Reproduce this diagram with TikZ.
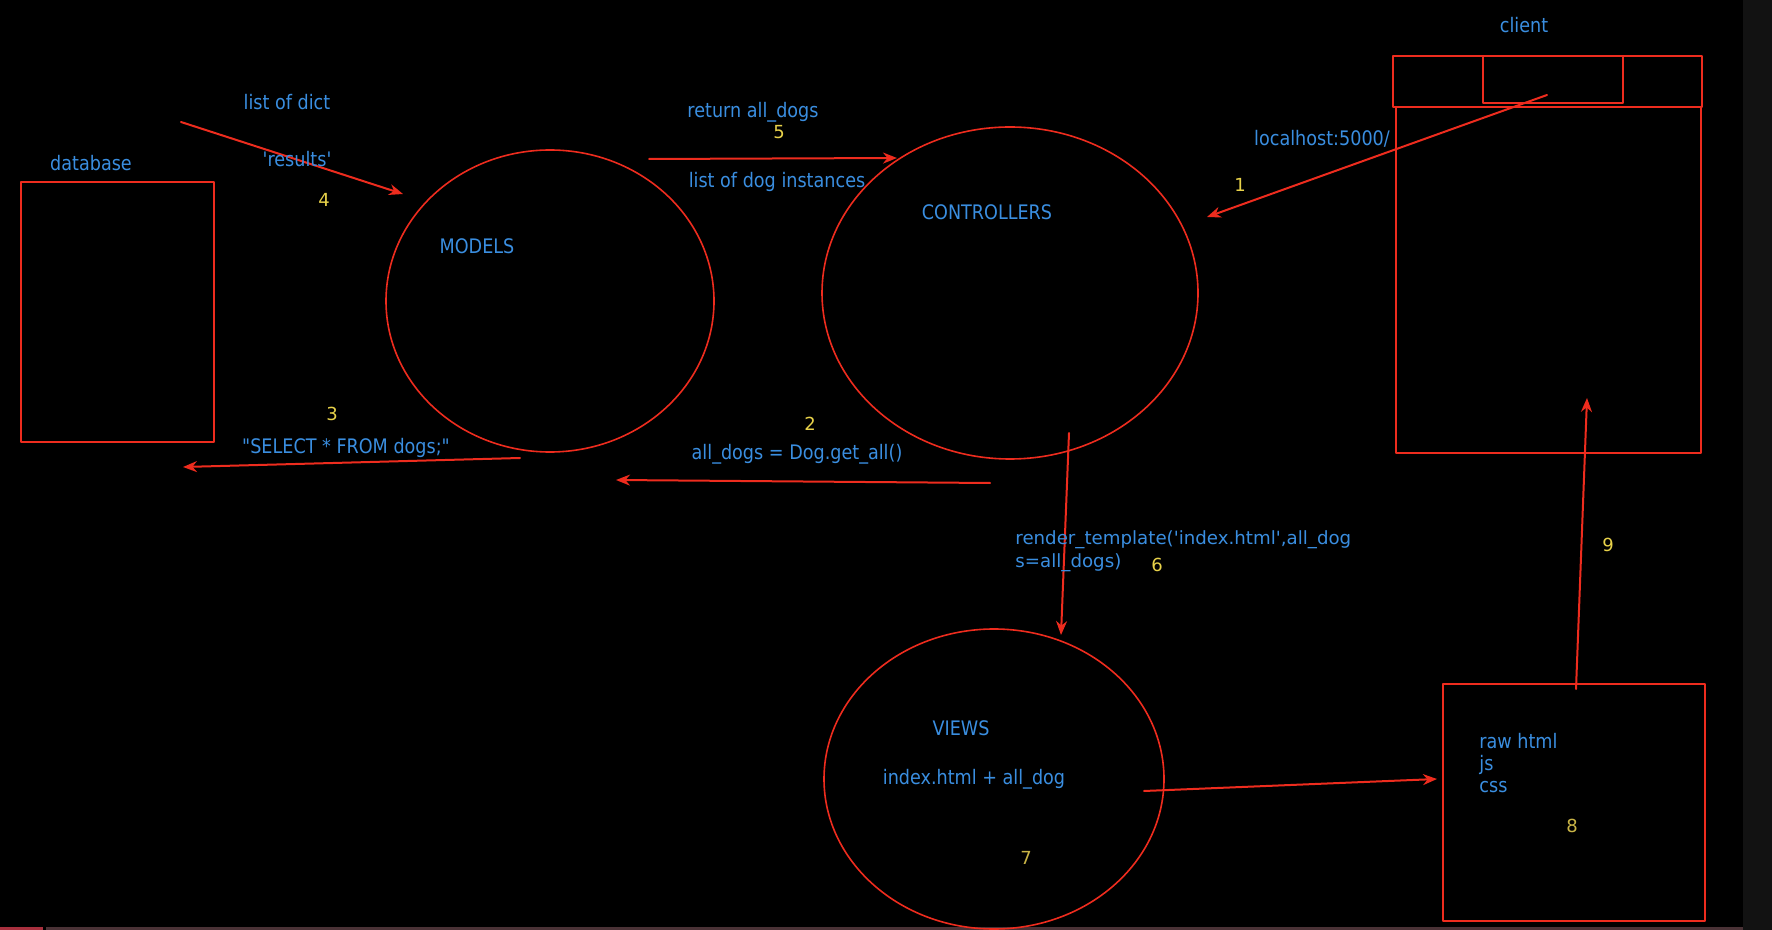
\documentclass[tikz,border=0pt]{standalone}
\usepackage{fontspec}
\setmainfont{DejaVu Sans}
\newfontfamily\lblfont{DejaVu Sans}[FakeStretch=0.88]
\newfontfamily\codefont{DejaVu Sans}
\usetikzlibrary{arrows.meta,shapes.geometric,fit}
\definecolor{pen}{HTML}{EE2C1E}
\definecolor{txt}{HTML}{3A8EE0}
\definecolor{numcol}{HTML}{E8D24A}
\definecolor{numdim}{HTML}{C9B446}
\definecolor{bar}{HTML}{121212}
\definecolor{edgered}{HTML}{A8303E}
\definecolor{edgegray}{HTML}{4A3236}
\newcommand{\sq}{\symbol{39}}
\tikzset{
  >={Stealth[length=7pt,width=5.5pt]},
  every picture/.style={line cap=round, line join=round},
  pane/.style={draw=pen, line width=1pt, inner sep=0pt},
  blob/.style={ellipse, draw=pen, line width=0.8pt, inner sep=0pt},
  flow/.style={->, draw=pen, line width=1pt},
  lbl/.style={font=\lblfont\fontsize{10}{11}\selectfont, text=txt, inner sep=0pt},
  code/.style={font=\codefont\fontsize{9.1}{11.5}\selectfont, text=txt, inner sep=0pt, align=left},
  stepno/.style={font=\fontsize{9}{11}\selectfont, text=numcol, inner sep=0pt},
  stepdim/.style={stepno, text=numdim},
}

\begin{document}
\begin{tikzpicture}[x=0.5pt, y=-0.5pt]
  % ===================== canvas =====================
  \fill[black] (0,0) rectangle (1772,930);
  \fill[bar] (1743,0) rectangle (1772,930);
  \fill[edgered] (0,927) rectangle (43,930);
  \fill[edgegray] (46,927) rectangle (1743,930);
  \useasboundingbox (0,0) rectangle (1772,930);

  % ===================== boxes =====================
  \node[pane, fit={(21,182) (214,442)}] (db) {};
  \node[lbl] (dbL) at (91,163) {database};
  \node[pane, fit={(1393,56) (1702,107)}] (cbar) {};
  \node[pane, fit={(1483,56) (1623,103)}] (ctab) {};
  \node[pane, fit={(1396,107) (1701,453)}] (cbody) {};
  \node[lbl] (clientL) at (1524,25) {client};
  \node[pane, fit={(1443,684) (1705,921)}] (page) {};
  \node[lbl, align=left, anchor=north west] (pageL) at (1479,733) {raw html\\js\\css};
  \node[stepdim] (n8) at (1572,826) {8};

  % ===================== MVC ellipses =====================
  \node[blob, minimum width=164pt, minimum height=151pt] (models) at (550,301) {};
  \node[lbl] (modelsL) at (477,246) {MODELS};
  \node[blob, minimum width=188pt, minimum height=166pt] (ctrl) at (1010,293) {};
  \node[lbl] (ctrlL) at (987,212) {CONTROLLERS};
  \node[blob, minimum width=170pt, minimum height=150pt] (views) at (994,779) {};
  \node[lbl] (viewsL) at (961,728) {VIEWS};
  \node[lbl] (viewsT) at (974,779) {index.html + all\_dog};
  \node[stepdim] (n7) at (1026,858) {7};

  % ===================== request / response arrows =====================
  \coordinate (a1s) at (1547,95);  \coordinate (a1e) at (1207,217);
  \coordinate (a2s) at (990,483);  \coordinate (a2e) at (616,480);
  \coordinate (a3s) at (520,458);  \coordinate (a3e) at (183,467);
  \coordinate (a4s) at (181,122);  \coordinate (a4e) at (403,194);
  \coordinate (a5s) at (649,159);  \coordinate (a5e) at (897,158);
  \coordinate (a6s) at (1069,433); \coordinate (a6e) at (1061,635);
  \coordinate (a7s) at (1144,791); \coordinate (a7e) at (1437,779);
  \coordinate (a9s) at (1576,689); \coordinate (a9e) at (1587,398);
  \foreach \k in {1,2,3,4,5,6,7,9}{\draw[flow] (a\k s) -- (a\k e);}

  \node[lbl] (hostL) at (1322,139) {localhost:5000/};
  \node[stepno] (n1) at (1240,185) {1};
  \node[stepno] (n2) at (810,424) {2};
  \node[lbl] (getL) at (797,454) {all\_dogs = Dog.get\_all()};
  \node[stepno] (n3) at (332,414) {3};
  \node[lbl] (sqlL) at (346,448) {"SELECT * FROM dogs;"};
  \node[lbl] (dictL) at (287,102) {list of dict};
  \node[lbl] (resL) at (297,159) {\sq results\sq};
  \node[stepno] (n4) at (324,200) {4};
  \node[lbl] (retL) at (753,112) {return all\_dogs};
  \node[stepno] (n5) at (779,132) {5};
  \node[lbl] (instL) at (777,182) {list of dog instances};
  \node[code, anchor=north west] (rendL) at (1015,530) {render\_template(\sq index.html\sq,all\_dog\\s=all\_dogs)};
  \node[stepno] (n6) at (1157,565) {6};
  \node[stepno] (n9) at (1608,545) {9};
\end{tikzpicture}
\end{document}
